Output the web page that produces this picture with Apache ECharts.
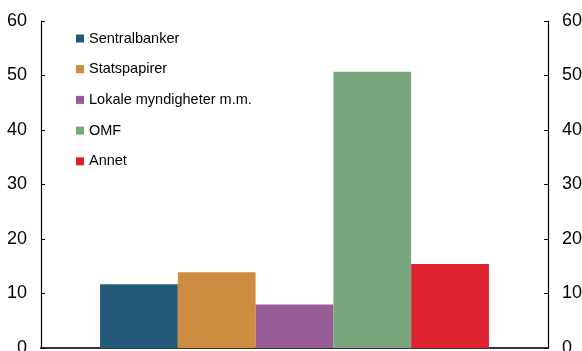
<!DOCTYPE html>
<html>
<head>
<meta charset="utf-8">
<script src="https://cdn.jsdelivr.net/npm/echarts@6/dist/echarts.min.js"></script>
<style>
html,body{margin:0;padding:0;background:#fff;}
#chart{width:582px;height:351px;}
</style>
</head>
<body>
<div id="chart"></div>
<script>
const categories = [''];
const seriesNames = ['Sentralbanker', 'Statspapirer', 'Lokale myndigheter m.m.', 'OMF', 'Annet'];
const seriesValues = [11.7, 13.9, 8.0, 50.7, 15.4];
const seriesColors = ['#225a78', '#ce8c41', '#985c97', '#78a77e', '#dd212f'];
const yTicks = [0, 10, 20, 30, 40, 50, 60];

const chart = echarts.init(document.getElementById('chart'), null, {renderer: 'canvas'});
const labelStyle = {fontFamily: 'Liberation Sans, Arial, sans-serif', fontSize: 18, color: '#000'};
const option = {
  animation: false,
  backgroundColor: '#fff',
  grid: {left: 41, right: 34, top: 21, bottom: 3, containLabel: false, outerBoundsMode: 'none'},
  legend: {
    orient: 'vertical',
    left: 76,
    top: 31,
    padding: 0,
    icon: 'rect',
    itemWidth: 8,
    itemHeight: 8,
    itemGap: 15.7,
    textStyle: {fontFamily: 'Liberation Sans, Arial, sans-serif', fontSize: 14.5, color: '#000', lineHeight: 14},
    data: seriesNames
  },
  xAxis: [
    {type: 'category', data: categories, axisLine: {show: true, lineStyle: {color: '#000', width: 1.5}}, axisTick: {show: false}, axisLabel: {show: false}},
    {type: 'category', position: 'top', data: categories, axisLine: {show: true, lineStyle: {color: '#333', width: 2}}, axisTick: {show: false}, axisLabel: {show: false}}
  ],
  yAxis: [
    {type: 'value', position: 'left', min: yTicks[0], max: yTicks[yTicks.length-1], interval: 10,
     axisLine: {show: true, lineStyle: {color: '#000', width: 1.2}},
     axisTick: {show: true, inside: true, length: 4, lineStyle: {color: '#000'}},
     axisLabel: Object.assign({margin: 14}, labelStyle), splitLine: {show: false}},
    {type: 'value', position: 'right', min: yTicks[0], max: yTicks[yTicks.length-1], interval: 10,
     axisLine: {show: true, lineStyle: {color: '#000', width: 1.2}},
     axisTick: {show: true, inside: true, length: 4, lineStyle: {color: '#000'}},
     axisLabel: Object.assign({margin: 14}, labelStyle), splitLine: {show: false}}
  ],
  series: seriesNames.map((name, i) => ({
    name: name,
    type: 'bar',
    xAxisIndex: 0,
    yAxisIndex: 0,
    data: [seriesValues[i]],
    itemStyle: {color: seriesColors[i]},
    barGap: '0%',
    barCategoryGap: '23.3%'
  }))
};
chart.setOption(option);
</script>
</body>
</html>
